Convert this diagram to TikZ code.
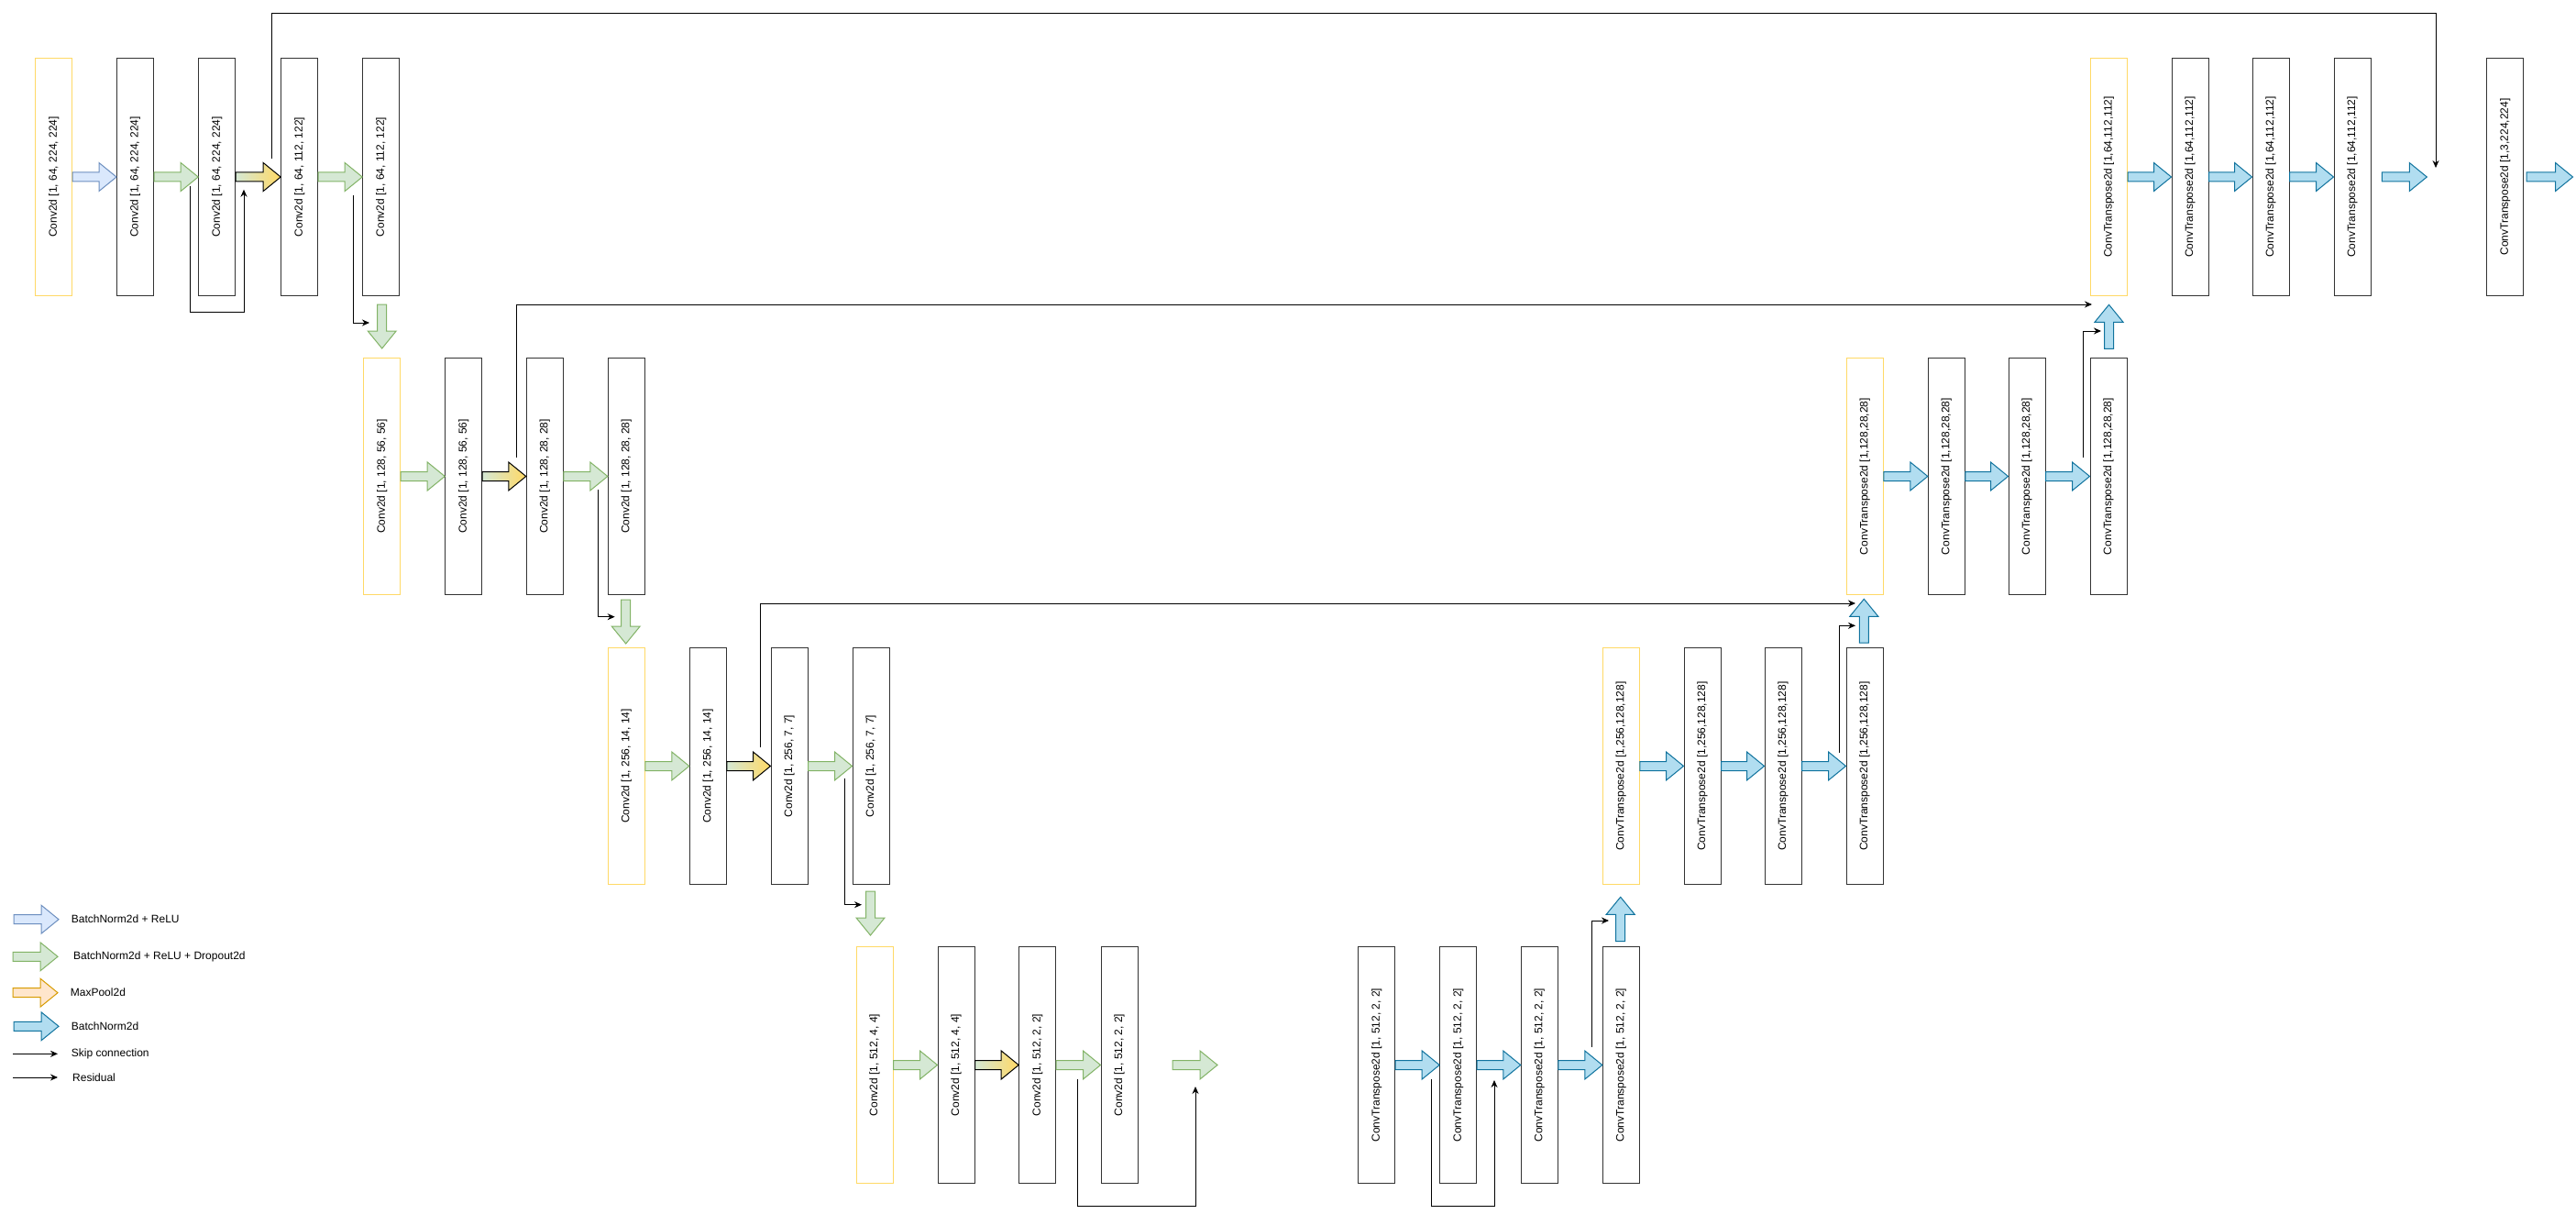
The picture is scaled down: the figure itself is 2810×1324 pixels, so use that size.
\documentclass[tikz,border=0pt]{standalone}
\usepackage{fontspec}
\setmainfont{Liberation Sans}
\usepackage{graphicx}
\usetikzlibrary{arrows.meta,calc}
\definecolor{ybox}{HTML}{FFD966}
\definecolor{bline}{HTML}{333333}
\definecolor{gfill}{HTML}{D5E8D4}
\definecolor{gdraw}{HTML}{82B366}
\definecolor{lbfill}{HTML}{DAE8FC}
\definecolor{lbdraw}{HTML}{6C8EBF}
\definecolor{ofill}{HTML}{FFE6CC}
\definecolor{odraw}{HTML}{D79B00}
\definecolor{bfill}{HTML}{B1DDF0}
\definecolor{bdraw}{HTML}{10739E}
\definecolor{mpyellow}{HTML}{FFD966}
\tikzset{
 layer/.style={draw=bline, line width=1pt, fill=white, minimum width=40pt, minimum height=258pt, inner sep=0pt, font=\fontsize{12}{14}\selectfont},
 firstlayer/.style={layer, draw=ybox},
 garrow/.style={fill=gfill, draw=gdraw, line width=1pt},
 lbarrow/.style={fill=lbfill, draw=lbdraw, line width=1pt},
 oarrow/.style={fill=ofill, draw=odraw, line width=1pt},
 barrow/.style={fill=bfill, draw=bdraw, line width=1pt},
 mparrow/.style={left color=gfill, right color=mpyellow, draw=black, line width=1pt},
 link/.style={draw=black, line width=1pt, -{Stealth[length=8pt,width=7pt]}},
 legtext/.style={anchor=west, inner sep=0pt, font=\fontsize{12}{14}\selectfont},
}
% horizontal block arrow: style, from, to
\newcommand\harr[3]{\path[#1] let \p1=#2, \p2=#3 in
 (\x1,\y1+5pt) -- (\x2-19pt,\y1+5pt) -- (\x2-19pt,\y1+15.5pt) -- (\x2,\y1) --
 (\x2-19pt,\y1-15.5pt) -- (\x2-19pt,\y1-5pt) -- (\x1,\y1-5pt) -- cycle;}
% downward block arrow
\newcommand\darr[3]{\path[#1] let \p1=#2, \p2=#3 in
 (\x1-5pt,\y1) -- (\x1-5pt,\y2+19pt) -- (\x1-15.5pt,\y2+19pt) -- (\x1,\y2) --
 (\x1+15.5pt,\y2+19pt) -- (\x1+5pt,\y2+19pt) -- (\x1+5pt,\y1) -- cycle;}
% upward block arrow
\newcommand\uarr[3]{\path[#1] let \p1=#2, \p2=#3 in
 (\x1-5pt,\y1) -- (\x1-5pt,\y2-19pt) -- (\x1-15.5pt,\y2-19pt) -- (\x1,\y2) --
 (\x1+15.5pt,\y2-19pt) -- (\x1+5pt,\y2-19pt) -- (\x1+5pt,\y1) -- cycle;}
\newcommand\lbl[1]{\rotatebox{90}{#1}}
\begin{document}
\begin{tikzpicture}[x=1pt,y=-1pt]
\useasboundingbox (0,0) rectangle (2810,1324);
\fill[white] (0,0) rectangle (2810,1324);

% ---------- encoder row 1
\node[firstlayer] (e11) at (58.7,193) {\lbl{Conv2d [1, 64, 224, 224]}};
\node[layer] (e12) at (147.5,193) {\lbl{Conv2d [1, 64, 224, 224]}};
\node[layer] (e13) at (236.7,193) {\lbl{Conv2d [1, 64, 224, 224]}};
\node[layer] (e14) at (326.7,193) {\lbl{Conv2d [1, 64, 112, 122]}};
\node[layer] (e15) at (415.7,193) {\lbl{Conv2d [1, 64, 112, 122]}};
% ---------- encoder row 2
\node[firstlayer] (e21) at (416.7,519.5) {\lbl{Conv2d [1, 128, 56, 56]}};
\node[layer] (e22) at (505.7,519.5) {\lbl{Conv2d [1, 128, 56, 56]}};
\node[layer] (e23) at (594.3,519.5) {\lbl{Conv2d [1, 128, 28, 28]}};
\node[layer] (e24) at (683.3,519.5) {\lbl{Conv2d [1, 128, 28, 28]}};
% ---------- encoder row 3
\node[firstlayer] (e31) at (683.3,835.5) {\lbl{Conv2d [1, 256, 14, 14]}};
\node[layer] (e32) at (772.3,835.5) {\lbl{Conv2d [1, 256, 14, 14]}};
\node[layer] (e33) at (861,835.5) {\lbl{Conv2d [1, 256, 7, 7]}};
\node[layer] (e34) at (950,835.5) {\lbl{Conv2d [1, 256, 7, 7]}};
% ---------- encoder row 4
\node[firstlayer] (e41) at (954,1161.5) {\lbl{Conv2d [1, 512, 4, 4]}};
\node[layer] (e42) at (1043,1161.5) {\lbl{Conv2d [1, 512, 4, 4]}};
\node[layer] (e43) at (1131.7,1161.5) {\lbl{Conv2d [1, 512, 2, 2]}};
\node[layer] (e44) at (1221,1161.5) {\lbl{Conv2d [1, 512, 2, 2]}};
% ---------- decoder row 4
\node[layer] (d41) at (1501.7,1161.5) {\lbl{ConvTranspose2d [1, 512, 2, 2]}};
\node[layer] (d42) at (1590.7,1161.5) {\lbl{ConvTranspose2d [1, 512, 2, 2]}};
\node[layer] (d43) at (1679.3,1161.5) {\lbl{ConvTranspose2d [1, 512, 2, 2]}};
\node[layer] (d44) at (1768.3,1161.5) {\lbl{ConvTranspose2d [1, 512, 2, 2]}};
% ---------- decoder row 3
\node[firstlayer] (d31) at (1768.3,835.5) {\lbl{ConvTranspose2d [1,256,128,128]}};
\node[layer] (d32) at (1857,835.5) {\lbl{ConvTranspose2d [1,256,128,128]}};
\node[layer] (d33) at (1945,835.5) {\lbl{ConvTranspose2d [1,256,128,128]}};
\node[layer] (d34) at (2034,835.5) {\lbl{ConvTranspose2d [1,256,128,128]}};
% ---------- decoder row 2
\node[firstlayer] (d21) at (2034.3,519.5) {\lbl{ConvTranspose2d [1,128,28,28]}};
\node[layer] (d22) at (2123.3,519.5) {\lbl{ConvTranspose2d [1,128,28,28]}};
\node[layer] (d23) at (2211,519.5) {\lbl{ConvTranspose2d [1,128,28,28]}};
\node[layer] (d24) at (2300,519.5) {\lbl{ConvTranspose2d [1,128,28,28]}};
% ---------- decoder row 1
\node[firstlayer] (d11) at (2300.5,193) {\lbl{ConvTranspose2d [1,64,112,112]}};
\node[layer] (d12) at (2389,193) {\lbl{ConvTranspose2d [1,64,112,112]}};
\node[layer] (d13) at (2477,193) {\lbl{ConvTranspose2d [1,64,112,112]}};
\node[layer] (d14) at (2566,193) {\lbl{ConvTranspose2d [1,64,112,112]}};
\node[layer] (out) at (2732.7,193) {\lbl{ConvTranspose2d [1,3,224,224]}};

% ---------- horizontal block arrows, encoder
\harr{lbarrow}{(e11.east)}{(e12.west)}
\harr{garrow}{(e12.east)}{(e13.west)}
\harr{mparrow}{(e13.east)}{(e14.west)}
\harr{garrow}{(e14.east)}{(e15.west)}
\harr{garrow}{(e21.east)}{(e22.west)}
\harr{mparrow}{(e22.east)}{(e23.west)}
\harr{garrow}{(e23.east)}{(e24.west)}
\harr{garrow}{(e31.east)}{(e32.west)}
\harr{mparrow}{(e32.east)}{(e33.west)}
\harr{garrow}{(e33.east)}{(e34.west)}
\harr{garrow}{(e41.east)}{(e42.west)}
\harr{mparrow}{(e42.east)}{(e43.west)}
\harr{garrow}{(e43.east)}{(e44.west)}
\coordinate (fa1) at (1279,1161.5);
\coordinate (fa2) at (1328,1161.5);
\harr{garrow}{(fa1)}{(fa2)}
% ---------- horizontal block arrows, decoder
\harr{barrow}{(d41.east)}{(d42.west)}
\harr{barrow}{(d42.east)}{(d43.west)}
\harr{barrow}{(d43.east)}{(d44.west)}
\harr{barrow}{(d31.east)}{(d32.west)}
\harr{barrow}{(d32.east)}{(d33.west)}
\harr{barrow}{(d33.east)}{(d34.west)}
\harr{barrow}{(d21.east)}{(d22.west)}
\harr{barrow}{(d22.east)}{(d23.west)}
\harr{barrow}{(d23.east)}{(d24.west)}
\harr{barrow}{(d11.east)}{(d12.west)}
\harr{barrow}{(d12.east)}{(d13.west)}
\harr{barrow}{(d13.east)}{(d14.west)}
\coordinate (fb1) at (2598.3,193);
\coordinate (fb2) at (2647.3,193);
\harr{barrow}{(fb1)}{(fb2)}
\coordinate (fc1) at (2756,193);
\coordinate (fc2) at (2806.5,193);
\harr{barrow}{(fc1)}{(fc2)}

% ---------- vertical block arrows
\coordinate (v1a) at (416.7,332);   \coordinate (v1b) at (416.7,380);
\coordinate (v2a) at (682.7,654);   \coordinate (v2b) at (682.7,702);
\coordinate (v3a) at (949.5,972);   \coordinate (v3b) at (949.5,1020);
\darr{garrow}{(v1a)}{(v1b)}
\darr{garrow}{(v2a)}{(v2b)}
\darr{garrow}{(v3a)}{(v3b)}
\coordinate (u4a) at (1767.7,1026.7); \coordinate (u4b) at (1767.7,978.3);
\coordinate (u3a) at (2033.3,701);    \coordinate (u3b) at (2033.3,653.3);
\coordinate (u2a) at (2300.5,380.3);  \coordinate (u2b) at (2300.5,332.3);
\uarr{barrow}{(u4a)}{(u4b)}
\uarr{barrow}{(u3a)}{(u3b)}
\uarr{barrow}{(u2a)}{(u2b)}

% ---------- skip connections
\coordinate (s1a) at (296,173);  \coordinate (s1b) at (2657,183);
\coordinate (s2a) at (563,499);  \coordinate (s2b) at (2282,332);
\coordinate (s3a) at (829,815);  \coordinate (s3b) at (2024,658);
\draw[link] (s1a) -- ++(0,-158) -| (s1b);
\draw[link] (s2a) |- (s2b);
\draw[link] (s3a) |- (s3b);

% ---------- residuals
\coordinate (r1a) at (207,203);   \coordinate (r1b) at (266,206.7);
\coordinate (r2a) at (385,213);   \coordinate (r2b) at (403,352);
\coordinate (r3a) at (652,534);   \coordinate (r3b) at (670.7,672.7);
\coordinate (r4a) at (921.7,849); \coordinate (r4b) at (940,986.7);
\coordinate (r5a) at (1175,1177); \coordinate (r5b) at (1304,1185);
\coordinate (r6a) at (1561,1177); \coordinate (r6b) at (1630,1178);
\coordinate (r7a) at (1736,1142); \coordinate (r7b) at (1755,1004);
\coordinate (r8a) at (2006,821);  \coordinate (r8b) at (2024,682.3);
\coordinate (r9a) at (2272,499);  \coordinate (r9b) at (2292,361);
\draw[link] (r1a) -- ++(0,137) -| (r1b);
\draw[link] (r2a) |- (r2b);
\draw[link] (r3a) |- (r3b);
\draw[link] (r4a) |- (r4b);
\draw[link] (r5a) -- ++(0,138) -| (r5b);
\draw[link] (r6a) -- ++(0,138) -| (r6b);
\draw[link] (r7a) |- (r7b);
\draw[link] (r8a) |- (r8b);
\draw[link] (r9a) |- (r9b);

% ---------- legend
\coordinate (l1a) at (15,1002.7);  \coordinate (l1b) at (64,1002.7);
\coordinate (l2a) at (14,1043.3);  \coordinate (l2b) at (63,1043.3);
\coordinate (l3a) at (14,1082.7);  \coordinate (l3b) at (63,1082.7);
\coordinate (l4a) at (15,1119.3);  \coordinate (l4b) at (64,1119.3);
\harr{lbarrow}{(l1a)}{(l1b)}
\harr{garrow}{(l2a)}{(l2b)}
\harr{oarrow}{(l3a)}{(l3b)}
\harr{barrow}{(l4a)}{(l4b)}
\coordinate (l5a) at (14,1149.3);  \coordinate (l5b) at (63,1149.3);
\coordinate (l6a) at (14,1175);    \coordinate (l6b) at (63,1175);
\draw[link] (l5a) -- (l5b);
\draw[link] (l6a) -- (l6b);
\node[legtext] (t1) at (77.7,1002.7) {BatchNorm2d + ReLU};
\node[legtext] (t2) at (80,1043.3) {BatchNorm2d + ReLU + Dropout2d};
\node[legtext] (t3) at (76.7,1082.7) {MaxPool2d};
\node[legtext] (t4) at (77.7,1119.3) {BatchNorm2d};
\node[legtext] (t5) at (77.7,1149.3) {Skip connection};
\node[legtext] (t6) at (79,1175) {Residual};
\end{tikzpicture}
\end{document}
